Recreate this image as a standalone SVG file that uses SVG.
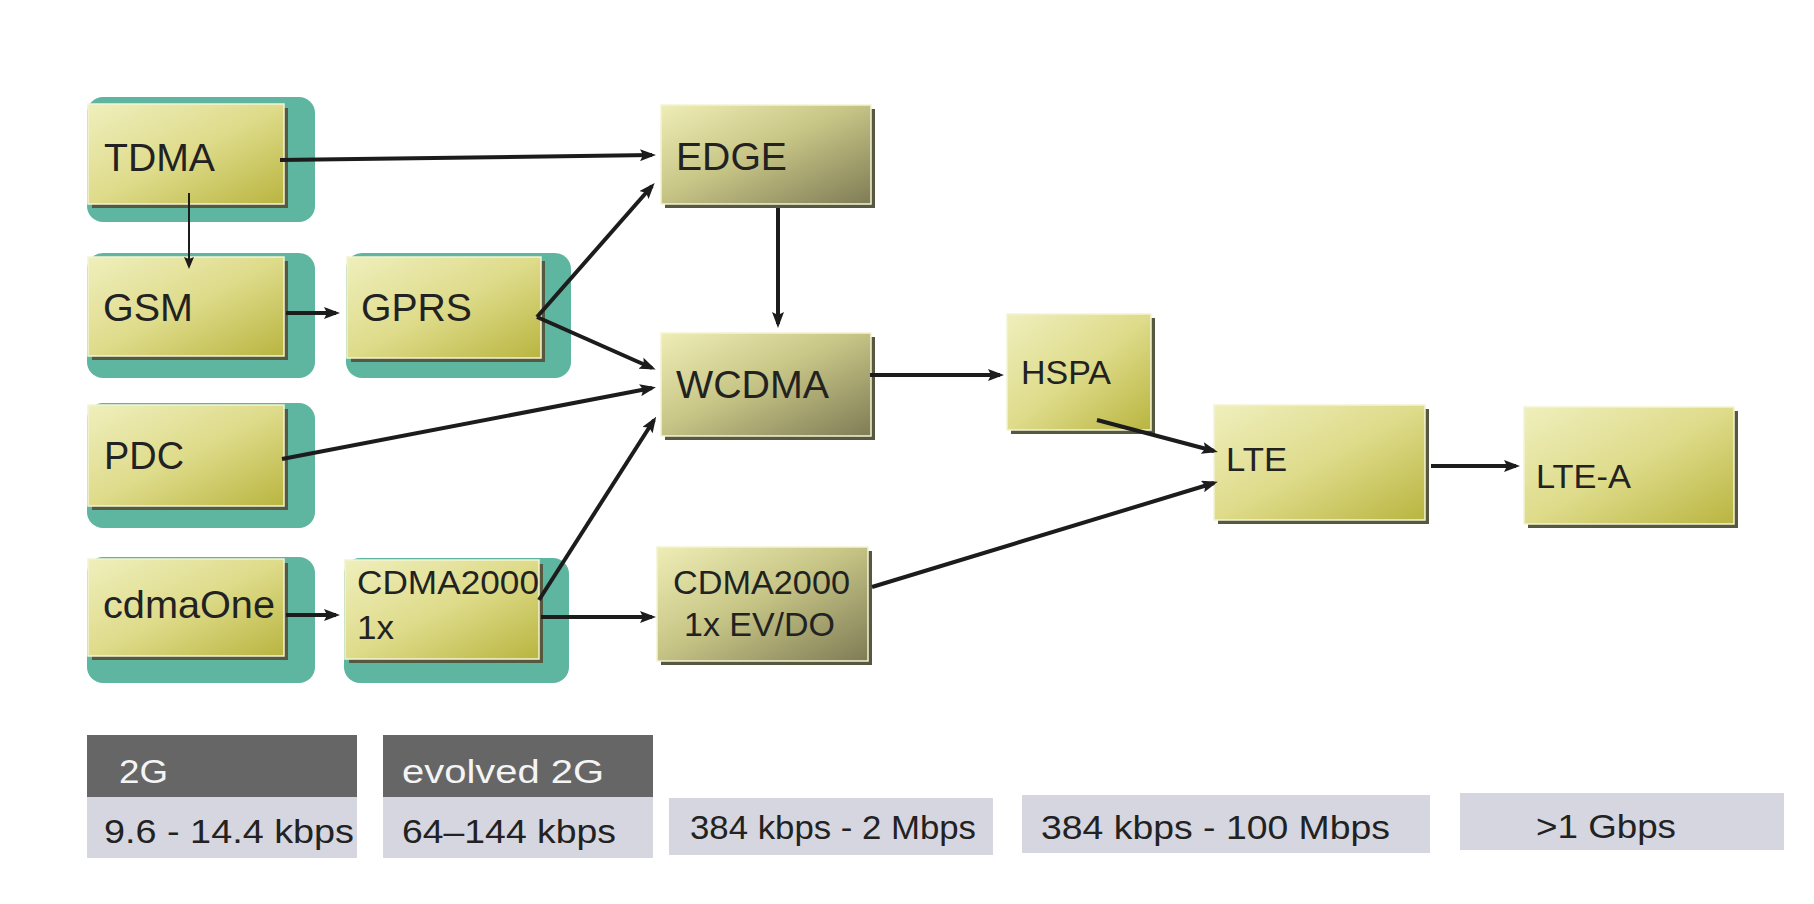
<svg xmlns="http://www.w3.org/2000/svg" width="1814" height="904" viewBox="0 0 1814 904">
<defs>
<linearGradient id="gy" x1="0" y1="0" x2="1" y2="1">
<stop offset="0" stop-color="#efefbd"/>
<stop offset="0.5" stop-color="#dedb8a"/>
<stop offset="1" stop-color="#b9b540"/>
</linearGradient>
<linearGradient id="gg" x1="0" y1="0" x2="1" y2="1">
<stop offset="0" stop-color="#eeedb6"/>
<stop offset="0.45" stop-color="#c9c787"/>
<stop offset="1" stop-color="#7f7c56"/>
</linearGradient>
<marker id="ah" viewBox="0 0 16 12" refX="12" refY="6" markerWidth="16" markerHeight="12" markerUnits="userSpaceOnUse" orient="auto">
<path d="M0,0 L16,6 L0,12 L3,6 z" fill="#1c1c1c"/>
</marker>
<marker id="ahs" viewBox="0 0 12 10" refX="9" refY="5" markerWidth="12" markerHeight="10" markerUnits="userSpaceOnUse" orient="auto">
<path d="M0,0 L12,5 L0,10 L2,5 z" fill="#1c1c1c"/>
</marker>
</defs>
<style>
.teal{fill:#5eb6a0}
.sh{fill:#56583f}
.by{fill:url(#gy);stroke:#f4f3d4;stroke-width:1.5}
.bg{fill:url(#gg);stroke:#f4f3d4;stroke-width:1.5}
.t{font-family:"Liberation Sans",Arial,sans-serif;fill:#222222}
.big{font-size:39px}
.mid{font-size:34px}
.sm{font-size:33px}
.bt{font-size:34px}
.hd{fill:#666666}
.lt{fill:#d6d6e0}
.ht{font-family:"Liberation Sans",Arial,sans-serif;font-size:34px;fill:#f4f4f4}
.c{fill:none;stroke:#1c1c1c;stroke-width:4;marker-end:url(#ah)}
.cs{fill:none;stroke:#1c1c1c;stroke-width:2;marker-end:url(#ahs)}
</style>
<rect width="1814" height="904" fill="#ffffff"/>

<g id="TDMA">
<rect class="teal" x="87" y="97" width="228" height="125" rx="16"/>
<rect class="sh" x="92" y="108" width="196" height="100"/>
<rect class="by" x="88" y="104" width="196" height="100"/>
<text class="t big" x="104" y="171" textLength="111" lengthAdjust="spacingAndGlyphs">TDMA</text>
</g>
<g id="GSM">
<rect class="teal" x="87" y="253" width="228" height="125" rx="16"/>
<rect class="sh" x="92" y="261" width="196" height="99"/>
<rect class="by" x="88" y="257" width="196" height="99"/>
<text class="t big" x="103" y="321" textLength="90" lengthAdjust="spacingAndGlyphs">GSM</text>
</g>
<g id="GPRS">
<rect class="teal" x="346" y="253" width="225" height="125" rx="16"/>
<rect class="sh" x="351" y="261" width="194" height="101"/>
<rect class="by" x="347" y="257" width="194" height="101"/>
<text class="t big" x="361" y="321" textLength="111" lengthAdjust="spacingAndGlyphs">GPRS</text>
</g>
<g id="PDC">
<rect class="teal" x="87" y="403" width="228" height="125" rx="16"/>
<rect class="sh" x="92" y="409" width="196" height="101"/>
<rect class="by" x="88" y="405" width="196" height="101"/>
<text class="t big" x="104" y="469" textLength="80" lengthAdjust="spacingAndGlyphs">PDC</text>
</g>
<g id="cdmaOne">
<rect class="teal" x="87" y="557" width="228" height="126" rx="16"/>
<rect class="sh" x="92" y="563" width="196" height="97"/>
<rect class="by" x="88" y="559" width="196" height="97"/>
<text class="t big" x="103" y="618" textLength="172" lengthAdjust="spacingAndGlyphs">cdmaOne</text>
</g>
<g id="CDMA2000-1x">
<rect class="teal" x="344" y="558" width="225" height="125" rx="16"/>
<rect class="sh" x="349" y="564" width="194" height="99"/>
<rect class="by" x="345" y="560" width="194" height="99"/>
<text class="t mid" x="357" y="594" textLength="182" lengthAdjust="spacingAndGlyphs">CDMA2000</text>
<text class="t mid" x="357" y="639" textLength="37" lengthAdjust="spacingAndGlyphs">1x</text>
</g>
<g id="EDGE">
<rect class="sh" x="665" y="109" width="210" height="99"/>
<rect class="bg" x="661" y="105" width="210" height="99"/>
<text class="t big" x="676" y="170" textLength="111" lengthAdjust="spacingAndGlyphs">EDGE</text>
</g>
<g id="WCDMA">
<rect class="sh" x="665" y="337" width="210" height="103"/>
<rect class="bg" x="661" y="333" width="210" height="103"/>
<text class="t big" x="676" y="398" textLength="153" lengthAdjust="spacingAndGlyphs">WCDMA</text>
</g>
<g id="HSPA">
<rect class="sh" x="1011" y="318" width="144" height="116"/>
<rect class="by" x="1007" y="314" width="144" height="116"/>
<text class="t sm" x="1021" y="384" textLength="90" lengthAdjust="spacingAndGlyphs">HSPA</text>
</g>
<g id="CDMA2000-EVDO">
<rect class="sh" x="661" y="551" width="211" height="114"/>
<rect class="bg" x="657" y="547" width="211" height="114"/>
<text class="t mid" x="673" y="594" textLength="177" lengthAdjust="spacingAndGlyphs">CDMA2000</text>
<text class="t mid" x="684" y="636" textLength="151" lengthAdjust="spacingAndGlyphs">1x EV/DO</text>
</g>
<g id="LTE">
<rect class="sh" x="1218" y="409" width="211" height="115"/>
<rect class="by" x="1214" y="405" width="211" height="115"/>
<text class="t sm" x="1226" y="471" textLength="61" lengthAdjust="spacingAndGlyphs">LTE</text>
</g>
<g id="LTE-A">
<rect class="sh" x="1528" y="411" width="210" height="117"/>
<rect class="by" x="1524" y="407" width="210" height="117"/>
<text class="t sm" x="1536" y="488" textLength="95" lengthAdjust="spacingAndGlyphs">LTE-A</text>
</g>

<g id="connectors">
<line class="c" x1="280" y1="160" x2="652" y2="155"/>
<line class="cs" x1="189" y1="193" x2="189" y2="266"/>
<line class="c" x1="286" y1="313" x2="336" y2="313"/>
<line class="c" x1="537" y1="317" x2="652" y2="186"/>
<line class="c" x1="537" y1="317" x2="652" y2="368"/>
<line class="c" x1="282" y1="459" x2="652" y2="388"/>
<line class="c" x1="539" y1="600" x2="654" y2="420"/>
<line class="c" x1="286" y1="615" x2="336" y2="615"/>
<line class="c" x1="541" y1="617" x2="652" y2="617"/>
<line class="c" x1="778" y1="208" x2="778" y2="324"/>
<line class="c" x1="870" y1="375" x2="1000" y2="375"/>
<line class="c" x1="1097" y1="420" x2="1214" y2="451"/>
<line class="c" x1="872" y1="587" x2="1214" y2="483"/>
<line class="c" x1="1431" y1="466" x2="1516" y2="466"/>
</g>

<g id="rate-2G">
<rect class="hd" x="87" y="735" width="270" height="62"/>
<rect class="lt" x="87" y="797" width="270" height="61"/>
<text class="ht" x="119" y="783" textLength="49" lengthAdjust="spacingAndGlyphs">2G</text>
<text class="t bt" x="104" y="843" textLength="250" lengthAdjust="spacingAndGlyphs">9.6 - 14.4 kbps</text>
</g>
<g id="rate-evolved2G">
<rect class="hd" x="383" y="735" width="270" height="62"/>
<rect class="lt" x="383" y="797" width="270" height="61"/>
<text class="ht" x="402" y="783" textLength="202" lengthAdjust="spacingAndGlyphs">evolved 2G</text>
<text class="t bt" x="402" y="843" textLength="214" lengthAdjust="spacingAndGlyphs">64–144 kbps</text>
</g>
<g id="rate-3G">
<rect class="lt" x="669" y="798" width="324" height="57"/>
<text class="t bt" x="690" y="839" textLength="286" lengthAdjust="spacingAndGlyphs">384 kbps - 2 Mbps</text>
</g>
<g id="rate-4G">
<rect class="lt" x="1022" y="795" width="408" height="58"/>
<text class="t bt" x="1041" y="839" textLength="349" lengthAdjust="spacingAndGlyphs">384 kbps - 100 Mbps</text>
</g>
<g id="rate-LTEA">
<rect class="lt" x="1460" y="793" width="324" height="57"/>
<text class="t bt" x="1536" y="838" textLength="140" lengthAdjust="spacingAndGlyphs">&gt;1 Gbps</text>
</g>
</svg>
